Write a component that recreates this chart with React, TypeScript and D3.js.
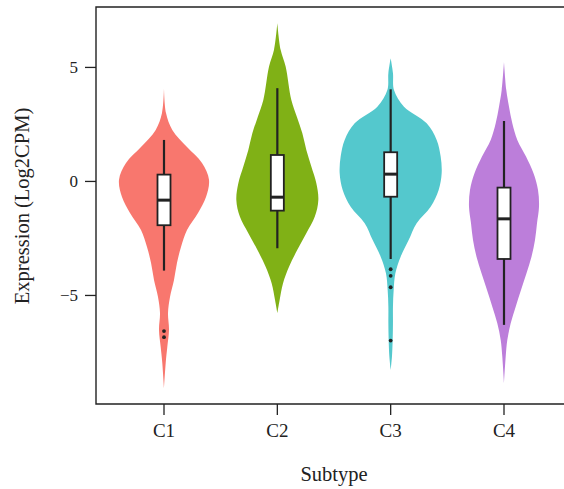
import React from "react";
import * as d3 from "d3";

// ---- data ----
const subtypes = ["C1", "C2", "C3", "C4"];
const fillColors = ["#F8776E", "#80B116", "#54C8CD", "#BC7EDA"];
const yTicks = [-5, 0, 5];

// violin outlines: value and relative density (half-width)
const c1Values = [4.1, 3.0, 2.26, 1.51, 0.81, 0.07, -0.68, -1.38, -2.13, -2.87, -3.57, -4.32, -5.07, -5.77, -6.51, -7.26, -7.96, -9.06];
const c1Density = [0, 0.02, 0.083, 0.23, 0.38, 0.45, 0.42, 0.34, 0.23, 0.17, 0.13, 0.1, 0.06, 0.04, 0.05, 0.033, 0.017, 0];
const c2Values = [6.94, 5.77, 5.04, 3.57, 2.84, 2.11, 1.38, 0.65, -0.08, -0.81, -1.54, -2.27, -3.0, -3.74, -4.46, -5.2, -5.78];
const c2Density = [0, 0.033, 0.083, 0.14, 0.195, 0.25, 0.29, 0.34, 0.39, 0.41, 0.375, 0.29, 0.2, 0.117, 0.057, 0.023, 0];
const c3Values = [5.4, 4.75, 4.01, 3.28, 2.55, 1.82, 1.09, 0.36, -0.37, -1.11, -1.83, -2.57, -3.3, -4.03, -4.76, -5.49, -6.22, -6.95, -7.68, -8.27];
const c3Density = [0, 0.023, 0.033, 0.133, 0.36, 0.46, 0.5, 0.51, 0.48, 0.4, 0.26, 0.18, 0.1, 0.047, 0.03, 0.023, 0.023, 0.02, 0.013, 0];
const c4Values = [5.25, 4.01, 3.28, 2.55, 1.82, 1.09, 0.36, -0.37, -1.11, -1.83, -2.57, -3.3, -4.03, -4.76, -5.49, -6.22, -6.95, -7.68, -8.85];
const c4Density = [0, 0.023, 0.05, 0.083, 0.133, 0.22, 0.295, 0.34, 0.35, 0.33, 0.31, 0.275, 0.225, 0.17, 0.117, 0.067, 0.033, 0.017, 0];

// box statistics: [lower whisker, q1, median, q3, upper whisker]
const c1Box = [-3.91, -1.92, -0.82, 0.3, 1.82];
const c2Box = [-2.93, -1.28, -0.69, 1.16, 4.09];
const c3Box = [-3.4, -0.67, 0.32, 1.28, 4.04];
const c4Box = [-6.29, -3.4, -1.64, -0.27, 2.65];
const c1Outliers = [-6.56, -6.83];
const c2Outliers: number[] = [];
const c3Outliers = [-3.85, -4.14, -4.64, -6.98];
const c4Outliers: number[] = [];

const violinValues = [c1Values, c2Values, c3Values, c4Values];
const violinDensity = [c1Density, c2Density, c3Density, c4Density];
const boxStats = [c1Box, c2Box, c3Box, c4Box];
const outliers = [c1Outliers, c2Outliers, c3Outliers, c4Outliers];

const W = 564;
const H = 489;
const FONT = "'Liberation Serif', 'Times New Roman', serif";

export default function App() {
  const left = 96;
  const right = 572;
  const top = 7;
  const bottom = 404;

  const x = d3.scaleLinear().domain([0.4, 4.6]).range([left, right]);
  const y = d3.scaleLinear().domain([-9.76, 7.65]).range([bottom, top]);
  const w = d3.scaleLinear().domain([0, 1]).range([0, 100]);
  const boxHalf = 6.5;

  return (
    <svg width={W} height={H} style={{ position: "absolute", left: 0, top: 0, background: "#fff" }}>
      <rect x={0} y={0} width={W} height={H} fill="#fff" />
      {subtypes.map((s, i) => {
        const cx = x(i + 1);
        const pts = violinValues[i].map((v, j) => ({ v, d: violinDensity[i][j] }));
        const area = d3
          .area<{ v: number; d: number }>()
          .y((d) => y(d.v))
          .x0((d) => cx - w(d.d))
          .x1((d) => cx + w(d.d))
          .curve(d3.curveCatmullRom.alpha(0.5));
        const [lo, q1, med, q3, hi] = boxStats[i];
        return (
          <g key={s}>
            <path d={area(pts) || ""} fill={fillColors[i]} stroke="none" />
            <line x1={cx} x2={cx} y1={y(hi)} y2={y(q3)} stroke="#222" strokeWidth={2.2} />
            <line x1={cx} x2={cx} y1={y(q1)} y2={y(lo)} stroke="#222" strokeWidth={2.2} />
            <rect
              x={cx - boxHalf}
              y={y(q3)}
              width={boxHalf * 2}
              height={y(q1) - y(q3)}
              fill="#fff"
              stroke="#222"
              strokeWidth={1.8}
            />
            <line x1={cx - boxHalf} x2={cx + boxHalf} y1={y(med)} y2={y(med)} stroke="#222" strokeWidth={3} />
            {outliers[i].map((o, k) => (
              <circle key={k} cx={cx} cy={y(o)} r={1.9} fill="#222" />
            ))}
          </g>
        );
      })}
      {/* frame */}
      <path
        d={`M${right},${top}H${left}V${bottom}H${right}`}
        fill="none"
        stroke="#222"
        strokeWidth={1.4}
      />
      {/* y axis */}
      {yTicks.map((t) => (
        <g key={t}>
          <line x1={left - 11} x2={left} y1={y(t)} y2={y(t)} stroke="#222" strokeWidth={1.3} />
          <text
            x={left - 18}
            y={y(t)}
            dy="0.34em"
            textAnchor="end"
            fontFamily={FONT}
            fontSize={17}
            fill="#222"
          >
            {t < 0 ? "−" + Math.abs(t) : String(t)}
          </text>
        </g>
      ))}
      {/* x axis */}
      {subtypes.map((s, i) => (
        <g key={s}>
          <line x1={x(i + 1)} x2={x(i + 1)} y1={bottom} y2={bottom + 11} stroke="#222" strokeWidth={1.3} />
          <text x={x(i + 1)} y={437} textAnchor="middle" fontFamily={FONT} fontSize={19} fill="#222">
            {s}
          </text>
        </g>
      ))}
      <text x={334} y={481} textAnchor="middle" fontFamily={FONT} fontSize={20.5} fill="#222">
        Subtype
      </text>
      <text
        transform={`translate(29,206) rotate(-90)`}
        textAnchor="middle"
        fontFamily={FONT}
        fontSize={20.5}
        fill="#222"
      >
        Expression (Log2CPM)
      </text>
    </svg>
  );
}
